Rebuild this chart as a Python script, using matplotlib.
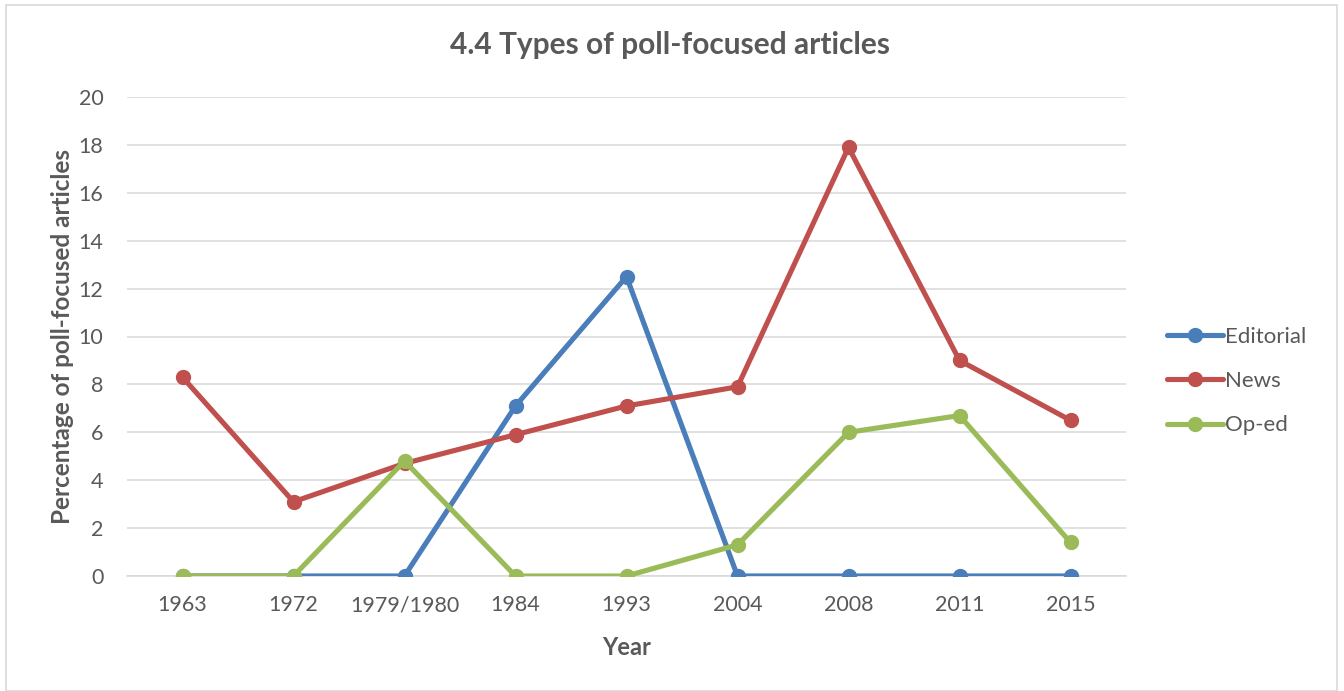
import matplotlib
matplotlib.use("Agg")
import matplotlib.pyplot as plt
from matplotlib.patches import Rectangle

years = ["1963", "1972", "1979/1980", "1984", "1993", "2004", "2008", "2011", "2015"]
editorial = [0, 0, 0, 7.1, 12.5, 0, 0, 0, 0]
news = [8.3, 3.1, 4.7, 5.9, 7.1, 7.9, 17.9, 9.0, 6.5]
oped = [0, 0, 4.8, 0, 0, 1.3, 6.0, 6.7, 1.4]

series = [("Editorial", editorial, "#4A7EBB"),
          ("News", news, "#C0504D"),
          ("Op-ed", oped, "#9BBB59")]

plt.rcParams["font.family"] = ["Lato", "DejaVu Sans"]
text_color = "#595959"

W, H = 1344, 691
fig = plt.figure(figsize=(W / 100, H / 100), dpi=100)
ax = fig.add_axes([127 / W, 1 - 576 / H, 999 / W, 479 / H])

x = range(len(years))
for name, vals, color in series:
    ax.plot(x, vals, color=color, linewidth=3.7, marker="o", markersize=10,
            label=name, solid_capstyle="round", zorder=3)

ax.set_xlim(-0.5, len(years) - 0.5)
ax.set_ylim(0, 20)
ax.set_yticks(range(0, 21, 2))
ax.set_xticks(list(x))
ax.set_xticklabels(years)
ax.grid(axis="y", color="#D9D9D9", linewidth=1.1, zorder=0)
ax.set_axisbelow(True)
for s in ["top", "right", "left"]:
    ax.spines[s].set_visible(False)
ax.spines["bottom"].set_color("#D9D9D9")
ax.spines["bottom"].set_linewidth(1.1)
ax.tick_params(axis="both", length=0, labelsize=15.5, colors=text_color)
ax.tick_params(axis="x", pad=14)
ax.tick_params(axis="y", pad=17)

ax.set_xlabel("Year", fontsize=17, fontweight="bold", color=text_color, labelpad=15)
ax.set_ylabel("Percentage of poll-focused articles", fontsize=17.5,
              fontweight="bold", color=text_color, labelpad=3)
fig.text(670 / W, 1 - 45 / H, "4.4 Types of poll-focused articles", ha="center",
         va="center", fontsize=21.5, fontweight="bold", color=text_color)

leg = ax.legend(loc="center left", bbox_to_anchor=(1147 / W, 1 - 381 / H),
                bbox_transform=fig.transFigure, frameon=False, fontsize=16,
                handlelength=2.5, labelspacing=1.1, handletextpad=0.1)
for t in leg.get_texts():
    t.set_color(text_color)

fig.patches.append(Rectangle((6 / W, 0), 1331 / W, 1 - 5 / H, transform=fig.transFigure,
                             fill=False, edgecolor="#D9D9D9", linewidth=1.2))

fig.savefig("out.png", dpi=100, facecolor="white")
